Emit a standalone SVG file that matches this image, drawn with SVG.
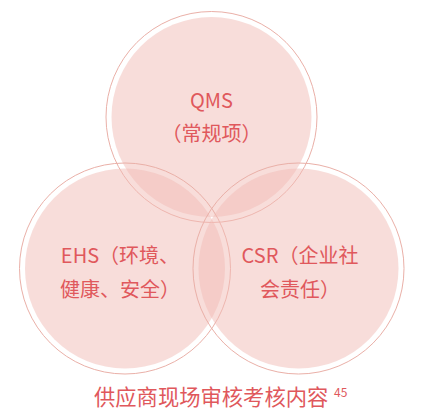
<svg xmlns="http://www.w3.org/2000/svg" width="421" height="410" viewBox="0 0 421 410">
<style>
.fill{fill:#f2bcb6;fill-opacity:0.5}
.ring{fill:none;stroke:#eab0a8;stroke-width:1}
.t{font-family:"Noto Sans CJK SC","Noto Sans",sans-serif;fill:#e0585c;text-anchor:middle;font-size:20px}
.c{font-family:"Noto Sans CJK SC","Noto Sans",sans-serif;fill:#e0585c}
</style>
<rect width="421" height="410" fill="#ffffff"/>
<g id="qms">
<circle class="fill" cx="211.5" cy="117" r="100"/>
<circle class="ring" cx="211.5" cy="117" r="105.5"/>
</g>
<g id="ehs">
<circle class="fill" cx="125" cy="268.5" r="100"/>
<circle class="ring" cx="125" cy="268.5" r="105.5"/>
</g>
<g id="csr">
<circle class="fill" cx="298.5" cy="268.5" r="100"/>
<circle class="ring" cx="298.5" cy="268.5" r="105.5"/>
</g>
<g id="labels">
<text class="t" x="211.5" y="108">QMS</text>
<text class="t" x="211.5" y="141">（常规项）</text>
<text class="t" x="120" y="263">EHS（环境、</text>
<text class="t" x="120" y="297">健康、安全）</text>
<text class="t" x="300" y="263">CSR（企业社</text>
<text class="t" x="300" y="297">会责任）</text>
</g>
<g id="connectors"></g>
<g id="caption">
<text class="c" x="94" y="405" font-size="21.3">供应商现场审核考核内容</text>
<text class="c" x="334" y="397" font-size="12">45</text>
</g>
</svg>
